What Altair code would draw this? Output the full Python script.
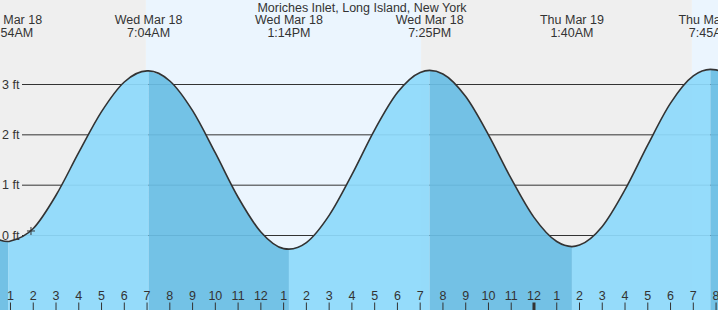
import altair as alt
import pandas as pd

W, H = 718, 310
FONT = "Liberation Sans"
TXT = "#333333"

X_DOMAIN = [0.5387, 32.085]   # hours after 00:00 Wed Mar 18
Y_DOMAIN = [-1.480, 4.679]    # feet

TITLE = "Moriches Inlet, Long Island, New York"

# tide extremes
EXT_T = [0.9, 7.067, 13.233, 19.417, 25.667, 31.75]
EXT_FT = [-0.12, 3.27, -0.27, 3.28, -0.22, 3.30]
EXT_DATE = ["Wed Mar 18", "Wed Mar 18", "Wed Mar 18", "Wed Mar 18", "Thu Mar 19", "Thu Mar 19"]
EXT_TIME = ["12:54AM", "7:04AM", "1:14PM", "7:25PM", "1:40AM", "7:45AM"]

# hourly tide heights
HOUR_T = list(range(-1, 34))
HOUR_FT = [0.59, 0.05, -0.11, 0.14, 0.80, 1.65, 2.46, 3.05, 3.27, 3.07, 2.48, 1.64,
           0.76, 0.07, -0.26, -0.14, 0.40, 1.21, 2.10, 2.84, 3.24, 3.21, 2.76, 2.00,
           1.13, 0.36, -0.12, -0.19, 0.18, 0.91, 1.80, 2.63, 3.17, 3.29, 2.97]

# day / night bands
SUN_START = [X_DOMAIN[0], 6.95, 19.04, 30.94]
SUN_END = [6.95, 19.04, 30.94, X_DOMAIN[1]]
SUN_KIND = ["night", "day", "night", "day"]

# hour axis
HOUR_TICKS = list(range(1, 33))
HOUR_LABELS = ["1", "2", "3", "4", "5", "6", "7", "8", "9", "10", "11", "12",
               "1", "2", "3", "4", "5", "6", "7", "8", "9", "10", "11", "12",
               "1", "2", "3", "4", "5", "6", "7", "8"]
MIDNIGHT = 24

# height axis
GRID_FT = [0, 1, 2, 3]
GRID_LABELS = ["0 ft", "1 ft", "2 ft", "3 ft"]

NOW_T = [1.9]
NOW_FT = [0.09]

NIGHT, DAY = "#efefef", "#ebf5fe"
LIGHT, DARK = "#8ed9fb", "#69bde4"

xs = alt.Scale(domain=X_DOMAIN, nice=False, zero=False)
ys = alt.Scale(domain=Y_DOMAIN, nice=False, zero=False)

# ---- data tables
pts = sorted(zip(HOUR_T + EXT_T, HOUR_FT + EXT_FT))
line_df = pd.DataFrame(pts, columns=["t", "ft"])

bounds = [float("-inf")] + EXT_T + [float("inf")]
rows = []
for k in range(len(bounds) - 1):
    lo, hi = bounds[k], bounds[k + 1]
    seg = [(t, v) for t, v in pts if lo <= t <= hi]
    direction = "fall" if seg[-1][1] < seg[0][1] else "rise"
    for t, v in seg:
        rows.append({"t": t, "ft": v, "seg": k, "dir": direction, "base": Y_DOMAIN[0]})
area_df = pd.DataFrame(rows)

bg_df = pd.DataFrame({"start": SUN_START, "end": SUN_END, "kind": SUN_KIND})
grid_df = pd.DataFrame({"ft": GRID_FT, "label": GRID_LABELS})
tick_df = pd.DataFrame({"t": HOUR_TICKS, "label": HOUR_LABELS})
ext_df = pd.DataFrame({"t": EXT_T, "date": EXT_DATE, "time": EXT_TIME})
now_df = pd.DataFrame({"t": NOW_T, "ft": NOW_FT})
title_df = pd.DataFrame({"text": [TITLE]})

X = lambda f: alt.X(f, scale=xs, axis=None)
Y = lambda f: alt.Y(f, scale=ys, axis=None)

bg = alt.Chart(bg_df).mark_rect().encode(
    x=X("start:Q"),
    x2="end:Q",
    color=alt.Color("kind:N", scale=alt.Scale(domain=["night", "day"], range=[NIGHT, DAY]), legend=None),
)

grid = alt.Chart(grid_df).mark_rule(color=TXT, strokeWidth=1).encode(
    y=Y("ft:Q"),
    x=alt.value(22),
    x2=alt.value(W),
)

area = alt.Chart(area_df).mark_area(interpolate="monotone", opacity=0.93, clip=True).encode(
    x=X("t:Q"),
    y=alt.Y("ft:Q", scale=ys, axis=None, stack=None),
    y2="base:Q",
    color=alt.Color("dir:N", scale=alt.Scale(domain=["rise", "fall"], range=[LIGHT, DARK]), legend=None),
    detail="seg:N",
)

curve = alt.Chart(line_df).mark_line(interpolate="monotone", clip=True, color=TXT, strokeWidth=1.6).encode(
    x=X("t:Q"),
    y=Y("ft:Q"),
)

now = alt.Chart(now_df).mark_point(
    shape="M-1,0L1,0M0,-1L0,1", size=64, filled=False, color=TXT, strokeWidth=1, opacity=1
).encode(x=X("t:Q"), y=Y("ft:Q"))

ticks = alt.Chart(tick_df).mark_rule(color=TXT).encode(
    x=X("t:Q"),
    y=alt.value(302.5),
    y2=alt.value(H),
    strokeWidth=alt.condition(f"datum.t == {MIDNIGHT}", alt.value(3), alt.value(1)),
)

tick_labels = alt.Chart(tick_df).mark_text(
    font=FONT, fontSize=12.5, color=TXT, align="center", baseline="alphabetic"
).encode(x=X("t:Q"), y=alt.value(300), text="label:N")

y_labels = alt.Chart(grid_df).mark_text(
    font=FONT, fontSize=12.5, color=TXT, align="left", baseline="middle"
).encode(x=alt.value(2), y=Y("ft:Q"), text="label:N")

title = alt.Chart(title_df).mark_text(
    font=FONT, fontSize=12.5, color=TXT, align="center", baseline="alphabetic"
).encode(x=alt.value(362), y=alt.value(12.3), text="text:N")

ext_date = alt.Chart(ext_df).mark_text(
    font=FONT, fontSize=12.5, color=TXT, align="center", baseline="alphabetic"
).encode(x=X("t:Q"), y=alt.value(24.3), text="date:N")

ext_time = alt.Chart(ext_df).mark_text(
    font=FONT, fontSize=12.5, color=TXT, align="center", baseline="alphabetic"
).encode(x=X("t:Q"), y=alt.value(36.7), text="time:N")

chart = alt.layer(
    bg, grid, area, curve, now, ticks, tick_labels, y_labels, title, ext_date, ext_time
).resolve_scale(
    color="independent"
).properties(
    width=W, height=H, padding=0, autosize=alt.AutoSizeParams(type="none")
).configure_view(strokeWidth=0)

chart.save("out.html", embed_options={"renderer": "svg", "actions": False})
